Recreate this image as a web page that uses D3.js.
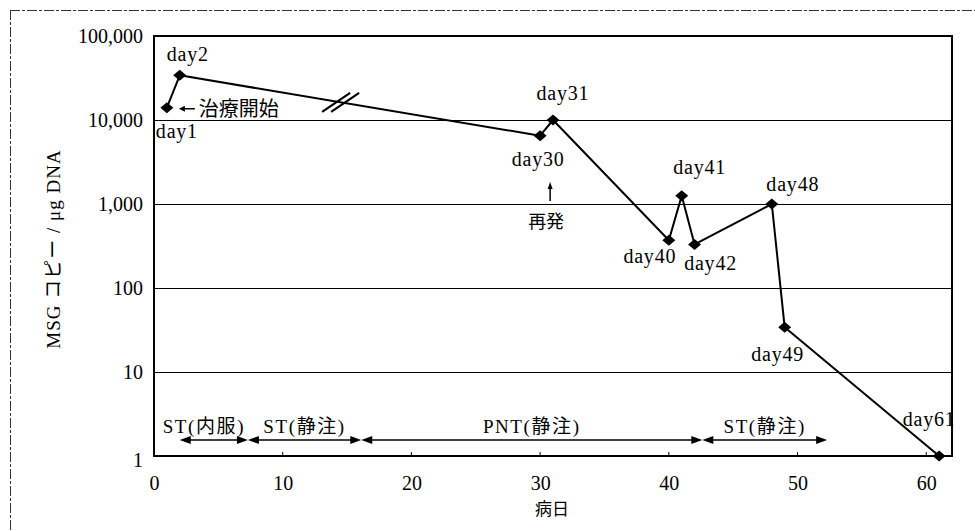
<!DOCTYPE html>
<html>
<head>
<meta charset="utf-8">
<script src="https://cdn.jsdelivr.net/npm/d3@7"></script>
<style>
  html, body { margin: 0; padding: 0; background: #fff; }
  svg { display: block; }
  text { fill: #000; }
</style>
</head>
<body>
<svg id="chart" width="975" height="531"></svg>
<script>
// MSG copies per µg DNA over the course of illness (days)
const days   = [1, 2, 30, 31, 40, 41, 42, 48, 49, 61];
const copies = [14000, 34000, 6500, 10000, 370, 1250, 330, 1000, 34, 1];
const pointLabels = ["day1", "day2", "day30", "day31", "day40", "day41", "day42", "day48", "day49", "day61"];

// treatment periods along the bottom of the chart
const therapyNames = ["ST(内服)", "ST(静注)", "PNT(静注)", "ST(静注)"];
const therapyStart = [2, 7.3, 16.1, 42.6];
const therapyEnd   = [7.3, 16.1, 42.6, 52.3];

const yTicks = [1, 10, 100, 1000, 10000, 100000];
const xTicks = [0, 10, 20, 30, 40, 50, 60];

// label placement around each point (pixels)
const labelOffset = [[10, 30], [8, -14], [-2, 30], [10, -20], [-19, 23],
                     [18, -22], [16, 26], [21, -13], [-7, 34], [-10, -30]];

const svg = d3.select("#chart");
const latin = "'Liberation Serif', 'Noto Sans CJK JP', serif";
const cjk = "'Noto Sans CJK JP', sans-serif";

const m = { left: 154, right: 952, top: 36, bottom: 456 };
const x = d3.scaleLinear().domain([0, 62]).range([m.left, m.right]);
const y = d3.scaleLog().domain([1, 100000]).range([m.bottom, m.top]);

// outer figure frame (dashed border)
svg.append("line").attr("x1", 10).attr("x2", 975).attr("y1", 10.5).attr("y2", 10.5)
  .attr("stroke", "#333").attr("stroke-width", 1).attr("stroke-dasharray", "10,2,3,2");
svg.append("line").attr("x1", 10.5).attr("x2", 10.5).attr("y1", 10).attr("y2", 531)
  .attr("stroke", "#333").attr("stroke-width", 1).attr("stroke-dasharray", "10,2,3,2");

// horizontal decade grid lines
svg.append("g").selectAll("line").data(yTicks.slice(1, -1)).join("line")
  .attr("x1", m.left).attr("x2", m.right)
  .attr("y1", d => Math.round(y(d)) + 0.5).attr("y2", d => Math.round(y(d)) + 0.5)
  .attr("stroke", "#000").attr("stroke-width", 1);

// y axis
const yAxis = svg.append("g").attr("transform", `translate(${m.left},0)`)
  .call(d3.axisLeft(y).tickValues(yTicks).tickFormat(d3.format(",")).tickSize(0).tickPadding(11));
yAxis.select(".domain").remove();
yAxis.selectAll("text").attr("font-family", latin).attr("font-size", 20).attr("fill", "#000")
  .attr("dy", d => d === 1 ? "0.5em" : "0.33em");

// x axis
const xAxis = svg.append("g").attr("transform", `translate(0,${m.bottom})`)
  .call(d3.axisBottom(x).tickValues(xTicks).tickSize(0).tickPadding(20));
xAxis.select(".domain").remove();
xAxis.selectAll("text").attr("font-family", latin).attr("font-size", 20).attr("fill", "#000");
svg.append("g").selectAll("line").data(xTicks.slice(1)).join("line")
  .attr("x1", d => x(d)).attr("x2", d => x(d))
  .attr("y1", m.bottom).attr("y2", m.bottom - 4)
  .attr("stroke", "#000").attr("stroke-width", 1);

// plot frame
svg.append("rect").attr("x", m.left).attr("y", m.top)
  .attr("width", m.right - m.left).attr("height", m.bottom - m.top)
  .attr("fill", "none").attr("stroke", "#000").attr("stroke-width", 2);

// axis titles
svg.append("text")
  .attr("transform", `translate(60,249) rotate(-90)`)
  .attr("text-anchor", "middle").attr("font-family", latin).attr("font-size", 19)
  .attr("letter-spacing", 1)
  .text("MSG コピー / μg DNA");
svg.append("text")
  .attr("x", 552).attr("y", 515).attr("text-anchor", "middle")
  .attr("font-family", cjk).attr("font-size", 17)
  .text("病日");

// data line
const pts = days.map((d, i) => ({ day: d, v: copies[i], label: pointLabels[i], off: labelOffset[i] }));
const line = d3.line().x(d => x(d.day)).y(d => y(d.v));
svg.append("path").datum(pts).attr("d", line)
  .attr("fill", "none").attr("stroke", "#000").attr("stroke-width", 2).attr("stroke-linejoin", "round");

// axis-break mark on the long day2 -> day30 segment
{
  const a = pts[1], b = pts[2];
  const bx = x(14.5);
  const t = (bx - x(a.day)) / (x(b.day) - x(a.day));
  const by = y(a.v) + t * (y(b.v) - y(a.v));
  [-4.5, 4.5].forEach(o => {
    svg.append("line")
      .attr("x1", bx + o - 14).attr("y1", by + 9.5)
      .attr("x2", bx + o + 14).attr("y2", by - 9.5)
      .attr("stroke", "#000").attr("stroke-width", 2.2);
  });
}

// diamond markers
const diamond = "M-6.5,0L0,-5.5L6.5,0L0,5.5Z";
svg.append("g").selectAll("path").data(pts).join("path")
  .attr("transform", d => `translate(${x(d.day)},${y(d.v)})`)
  .attr("d", diamond).attr("fill", "#000");

// point labels
svg.append("g").selectAll("text").data(pts).join("text")
  .attr("x", d => x(d.day) + d.off[0]).attr("y", d => y(d.v) + d.off[1])
  .attr("text-anchor", "middle").attr("font-family", latin).attr("font-size", 20)
  .attr("letter-spacing", 0.8)
  .text(d => d.label);

// treatment start note
{
  const p = pts[0];
  const px = x(p.day), py = y(p.v);
  svg.append("line").attr("x1", px + 15).attr("x2", px + 28).attr("y1", py + 1).attr("y2", py + 1)
    .attr("stroke", "#000").attr("stroke-width", 1.5);
  svg.append("path").attr("d", `M${px + 12},${py + 1}L${px + 18},${py - 2}L${px + 18},${py + 4}Z`).attr("fill", "#000");
  svg.append("text").attr("x", px + 32).attr("y", py + 1).attr("dy", "0.36em")
    .attr("font-family", cjk).attr("font-size", 20)
    .text("治療開始");
}

// relapse note under day30
{
  const p = pts[2];
  const ax = x(p.day) + 10;
  svg.append("line").attr("x1", ax).attr("x2", ax).attr("y1", 186).attr("y2", 201)
    .attr("stroke", "#000").attr("stroke-width", 1.5);
  svg.append("path").attr("d", `M${ax},182L${ax - 2.5},189L${ax + 2.5},189Z`).attr("fill", "#000");
  svg.append("text").attr("x", ax - 4).attr("y", 222).attr("dy", "0.36em").attr("text-anchor", "middle")
    .attr("font-family", cjk).attr("font-size", 18)
    .text("再発");
}

// treatment period arrows
const arrowY = 440;
const therapy = therapyNames.map((n, i) => ({ name: n, s: therapyStart[i], e: therapyEnd[i] }));
const tg = svg.append("g").selectAll("g").data(therapy).join("g");
tg.append("line")
  .attr("x1", d => x(d.s) + 6).attr("x2", d => x(d.e) - 6)
  .attr("y1", arrowY).attr("y2", arrowY)
  .attr("stroke", "#000").attr("stroke-width", 1.5);
tg.append("path")
  .attr("d", d => `M${x(d.s)},${arrowY}L${x(d.s) + 11},${arrowY - 4}L${x(d.s) + 11},${arrowY + 4}Z`)
  .attr("fill", "#000");
tg.append("path")
  .attr("d", d => `M${x(d.e)},${arrowY}L${x(d.e) - 11},${arrowY - 4}L${x(d.e) - 11},${arrowY + 4}Z`)
  .attr("fill", "#000");
tg.append("text")
  .attr("x", (d, i) => (x(d.s) + x(d.e)) / 2 + (i === 0 ? -10 : 0))
  .attr("y", 426).attr("dy", "0.36em").attr("text-anchor", "middle")
  .attr("font-family", latin).attr("font-size", 19).attr("letter-spacing", 1.6)
  .text(d => d.name);
</script>
</body>
</html>
